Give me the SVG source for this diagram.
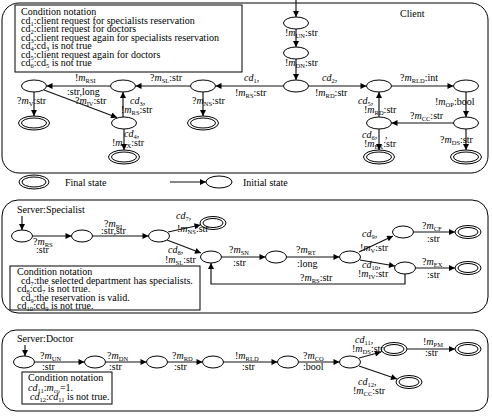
<svg xmlns="http://www.w3.org/2000/svg" width="492" height="416" viewBox="0 0 492 416" font-family="'Liberation Serif', 'Times New Roman', serif">
<style>
.t{font-family:"Liberation Serif","Times New Roman",serif;font-size:10px;fill:#000}
.i{font-style:italic}
.s{font-size:6.5px}
.e{fill:#fff;stroke:#000;stroke-width:1}
.c{fill:none;stroke:#111;stroke-width:1.15;marker-end:url(#ah)}
.p{fill:none;stroke:#000;stroke-width:1}
.b{fill:#fff;stroke:#000;stroke-width:1}
</style>
<defs>
<marker id="ah" viewBox="0 0 10 10" refX="10" refY="5" markerWidth="8" markerHeight="6" markerUnits="userSpaceOnUse" orient="auto"><path d="M0,0 L10,5 L0,10 z" fill="#000"/></marker>
</defs>
<rect x="0" y="0" width="492" height="416" fill="#fff"/>

<!-- Panels -->
<g id="panel-client"><rect class="p" x="2" y="3" width="486" height="170" rx="17"/>
<text class="t" x="400" y="17">Client</text></g>
<g id="panel-specialist"><rect class="p" x="2" y="200" width="486" height="113" rx="16"/>
<text class="t" x="17" y="213">Server:Specialist</text></g>
<g id="panel-doctor"><rect class="p" x="2" y="330" width="486" height="81" rx="14"/>
<text class="t" x="17" y="342">Server:Doctor</text></g>

<!-- Condition boxes -->
<g id="cond-client"><rect class="b" x="15" y="5" width="227" height="67"/>
<text class="t" x="21" y="15">Condition notation</text>
<text class="t" x="21" y="23.5">cd<tspan class="s" dy="2">1</tspan><tspan dy="-2">:client request for specialists reservation</tspan></text>
<text class="t" x="21" y="32">cd<tspan class="s" dy="2">2</tspan><tspan dy="-2">:client request for doctors</tspan></text>
<text class="t" x="21" y="40.5">cd<tspan class="s" dy="2">3</tspan><tspan dy="-2">:client request again for specialists reservation</tspan></text>
<text class="t" x="21" y="49">cd<tspan class="s" dy="2">4</tspan><tspan dy="-2">:cd</tspan><tspan class="s" dy="2">3</tspan><tspan dy="-2"> is not true</tspan></text>
<text class="t" x="21" y="57.5">cd<tspan class="s" dy="2">5</tspan><tspan dy="-2">:client request again for doctors</tspan></text>
<text class="t" x="21" y="66">cd<tspan class="s" dy="2">6</tspan><tspan dy="-2">:cd</tspan><tspan class="s" dy="2">5</tspan><tspan dy="-2"> is not true</tspan></text>
</g>
<g id="cond-specialist"><rect class="b" x="10" y="266" width="190" height="44"/>
<text class="t" x="17" y="275">Condition notation</text>
<text class="t" x="21" y="283.5">cd<tspan class="s" dy="2">7</tspan><tspan dy="-2">:the selected department has specialists.</tspan></text>
<text class="t" x="17" y="292">cd<tspan class="s" dy="2">8</tspan><tspan dy="-2">:cd</tspan><tspan class="s" dy="2">7</tspan><tspan dy="-2"> is not true.</tspan></text>
<text class="t" x="21" y="300.5">cd<tspan class="s" dy="2">9</tspan><tspan dy="-2">:the reservation is valid.</tspan></text>
<text class="t" x="17" y="309">cd<tspan class="s" dy="2">10</tspan><tspan dy="-2">:cd</tspan><tspan class="s" dy="2">9</tspan><tspan dy="-2"> is not true.</tspan></text>
</g>
<g id="cond-doctor"><rect class="b" x="22" y="372" width="90" height="32"/>
<text class="t" x="28" y="381">Condition notation</text>
<text class="t" x="28" y="390.5"><tspan class="i">cd</tspan><tspan class="s" dy="2">11</tspan><tspan dy="-2">:</tspan><tspan class="i">m</tspan><tspan class="s" dy="2">co</tspan><tspan dy="-2">=1.</tspan></text>
<text class="t" x="30" y="400"><tspan class="i">cd</tspan><tspan class="s" dy="2">12</tspan><tspan dy="-2">:</tspan><tspan class="i">cd</tspan><tspan class="s" dy="2">11</tspan><tspan dy="-2"> is not true.</tspan></text>
</g>

<!-- Legend -->
<g id="legend">
<ellipse class="e" cx="34" cy="182" rx="15" ry="7"/><ellipse class="e" cx="34" cy="182" rx="12" ry="5"/>
<text class="t" x="65" y="186">Final state</text>
<line class="c" x1="170" y1="182" x2="206" y2="182"/>
<ellipse class="e" cx="219" cy="182" rx="13" ry="6"/>
<text class="t" x="243" y="186">Initial state</text>
</g>

<!-- Connectors -->
<g id="connectors">
<!-- client -->
<line class="c" x1="296" y1="0" x2="296" y2="17"/>
<line class="c" x1="296" y1="29" x2="296" y2="47"/>
<line class="c" x1="296" y1="59" x2="296" y2="80"/>
<line class="c" x1="283.5" y1="86" x2="215.5" y2="86"/>
<line class="c" x1="190.5" y1="86" x2="135.5" y2="86"/>
<line class="c" x1="110.5" y1="86" x2="46.5" y2="86"/>
<line class="c" x1="44" y1="90" x2="117" y2="117.5"/>
<line class="c" x1="34" y1="92" x2="34" y2="116"/>
<line class="c" x1="123" y1="117" x2="123" y2="92"/>
<line class="c" x1="124" y1="129" x2="124" y2="150"/>
<line class="c" x1="203" y1="92" x2="203" y2="116"/>
<line class="c" x1="308.5" y1="86" x2="366.5" y2="86"/>
<line class="c" x1="391.5" y1="86" x2="453.5" y2="86"/>
<line class="c" x1="466" y1="92" x2="466" y2="117"/>
<line class="c" x1="453.5" y1="123" x2="391.5" y2="123"/>
<line class="c" x1="379" y1="117" x2="379" y2="92"/>
<line class="c" x1="379" y1="129" x2="379" y2="150"/>
<line class="c" x1="466" y1="129" x2="466" y2="150"/>
<!-- specialist -->
<line class="c" x1="22" y1="216" x2="22" y2="230"/>
<line class="c" x1="32.5" y1="236" x2="71.5" y2="236"/>
<line class="c" x1="92.5" y1="236" x2="148.5" y2="236"/>
<line class="c" x1="168" y1="232" x2="200.5" y2="225"/>
<line class="c" x1="167" y1="240" x2="201" y2="253"/>
<line class="c" x1="221.5" y1="257" x2="265.5" y2="257"/>
<line class="c" x1="286.5" y1="257" x2="339.5" y2="257"/>
<line class="c" x1="359" y1="252" x2="393" y2="236"/>
<line class="c" x1="360" y1="260" x2="395" y2="266"/>
<line class="c" x1="413.5" y1="232" x2="455" y2="232"/>
<line class="c" x1="415.5" y1="268" x2="455" y2="268"/>
<path class="c" d="M405,274 V284 H211 V263"/>
<!-- doctor -->
<line class="c" x1="25" y1="345" x2="25" y2="356"/>
<line class="c" x1="34.5" y1="362" x2="84.5" y2="362"/>
<line class="c" x1="105.5" y1="362" x2="146.5" y2="362"/>
<line class="c" x1="167.5" y1="362" x2="202.5" y2="362"/>
<line class="c" x1="223.5" y1="362" x2="277.5" y2="362"/>
<line class="c" x1="298.5" y1="362" x2="339.5" y2="362"/>
<line class="c" x1="359" y1="358" x2="381" y2="352"/>
<line class="c" x1="407" y1="349" x2="455" y2="349"/>
<line class="c" x1="359" y1="366" x2="397" y2="379"/>
</g>

<!-- Client nodes -->
<g id="c-un"><ellipse class="e" cx="296" cy="23" rx="12.5" ry="6"/></g>
<g id="c-dn"><ellipse class="e" cx="296" cy="53" rx="12.5" ry="6"/></g>
<g id="c-hub"><ellipse class="e" cx="296" cy="86" rx="12.5" ry="6"/></g>
<g id="c-l3"><ellipse class="e" cx="203" cy="86" rx="12.5" ry="6"/></g>
<g id="c-l2"><ellipse class="e" cx="123" cy="86" rx="12.5" ry="6"/></g>
<g id="c-l1"><ellipse class="e" cx="34" cy="86" rx="12.5" ry="6"/></g>
<g id="c-l4"><ellipse class="e" cx="124" cy="123" rx="12.5" ry="6"/></g>
<g id="c-fv"><ellipse class="e" cx="34" cy="123" rx="15.5" ry="7"/><ellipse class="e" cx="34" cy="123" rx="12.5" ry="5"/></g>
<g id="c-fns"><ellipse class="e" cx="203" cy="123" rx="15.5" ry="7"/><ellipse class="e" cx="203" cy="123" rx="12.5" ry="5"/></g>
<g id="c-fex1"><ellipse class="e" cx="124" cy="157" rx="15.5" ry="7"/><ellipse class="e" cx="124" cy="157" rx="12.5" ry="5"/></g>
<g id="c-r1"><ellipse class="e" cx="379" cy="86" rx="12.5" ry="6"/></g>
<g id="c-r2"><ellipse class="e" cx="466" cy="86" rx="12.5" ry="6"/></g>
<g id="c-r3"><ellipse class="e" cx="379" cy="123" rx="12.5" ry="6"/></g>
<g id="c-r4"><ellipse class="e" cx="466" cy="123" rx="12.5" ry="6"/></g>
<g id="c-fex2"><ellipse class="e" cx="379" cy="157" rx="15.5" ry="7"/><ellipse class="e" cx="379" cy="157" rx="12.5" ry="5"/></g>
<g id="c-fds"><ellipse class="e" cx="466" cy="157" rx="15.5" ry="7"/><ellipse class="e" cx="466" cy="157" rx="12.5" ry="5"/></g>

<!-- Specialist nodes -->
<g id="s1"><ellipse class="e" cx="22" cy="236" rx="10.5" ry="6"/></g>
<g id="s2"><ellipse class="e" cx="82" cy="236" rx="10.5" ry="6"/></g>
<g id="s3"><ellipse class="e" cx="159" cy="236" rx="10.5" ry="6"/></g>
<g id="s-f1"><ellipse class="e" cx="213" cy="223" rx="13" ry="6.5"/><ellipse class="e" cx="213" cy="223" rx="10" ry="4.5"/></g>
<g id="s4"><ellipse class="e" cx="211" cy="257" rx="10.5" ry="6"/></g>
<g id="s5"><ellipse class="e" cx="276" cy="257" rx="10.5" ry="6"/></g>
<g id="s6"><ellipse class="e" cx="350" cy="257" rx="10.5" ry="6"/></g>
<g id="s7"><ellipse class="e" cx="403" cy="232" rx="10.5" ry="6"/></g>
<g id="s8"><ellipse class="e" cx="405" cy="268" rx="10.5" ry="6"/></g>
<g id="s-f2"><ellipse class="e" cx="468" cy="232" rx="13" ry="6.5"/><ellipse class="e" cx="468" cy="232" rx="10" ry="4.5"/></g>
<g id="s-f3"><ellipse class="e" cx="468" cy="268" rx="13" ry="6.5"/><ellipse class="e" cx="468" cy="268" rx="10" ry="4.5"/></g>

<!-- Doctor nodes -->
<g id="d1"><ellipse class="e" cx="24" cy="362" rx="10.5" ry="6"/></g>
<g id="d2"><ellipse class="e" cx="95" cy="362" rx="10.5" ry="6"/></g>
<g id="d3"><ellipse class="e" cx="157" cy="362" rx="10.5" ry="6"/></g>
<g id="d4"><ellipse class="e" cx="213" cy="362" rx="10.5" ry="6"/></g>
<g id="d5"><ellipse class="e" cx="288" cy="362" rx="10.5" ry="6"/></g>
<g id="d6"><ellipse class="e" cx="350" cy="362" rx="10.5" ry="6"/></g>
<g id="d-f1"><ellipse class="e" cx="394" cy="349" rx="13" ry="6.5"/><ellipse class="e" cx="394" cy="349" rx="10" ry="4.5"/></g>
<g id="d-f2"><ellipse class="e" cx="468" cy="349" rx="13" ry="6.5"/><ellipse class="e" cx="468" cy="349" rx="10" ry="4.5"/></g>
<g id="d-f3"><ellipse class="e" cx="409" cy="382" rx="13" ry="6.5"/><ellipse class="e" cx="409" cy="382" rx="10" ry="4.5"/></g>

<!-- Labels -->
<g id="labels">
<!-- client -->
<text class="t" x="285" y="36">!<tspan class="i">m</tspan><tspan class="s" dy="2">UN</tspan><tspan dy="-2">:str</tspan></text>
<text class="t" x="285" y="66">!<tspan class="i">m</tspan><tspan class="s" dy="2">DN</tspan><tspan dy="-2">:str</tspan></text>
<text class="t" x="322" y="81"><tspan class="i">cd</tspan><tspan class="s" dy="2">2</tspan><tspan dy="-2">,</tspan></text>
<text class="t" x="315" y="96">!<tspan class="i">m</tspan><tspan class="s" dy="2">RD</tspan><tspan dy="-2">:str</tspan></text>
<text class="t" x="400" y="81">?<tspan class="i">m</tspan><tspan class="s" dy="2">RLD</tspan><tspan dy="-2">:int</tspan></text>
<text class="t" x="435" y="105">!<tspan class="i">m</tspan><tspan class="s" dy="2">OP</tspan><tspan dy="-2">:bool</tspan></text>
<text class="t" x="410" y="119">?<tspan class="i">m</tspan><tspan class="s" dy="2">CC</tspan><tspan dy="-2">:str</tspan></text>
<text class="t" x="440" y="143">?<tspan class="i">m</tspan><tspan class="s" dy="2">DS</tspan><tspan dy="-2">:str</tspan></text>
<text class="t" x="358" y="104"><tspan class="i">cd</tspan><tspan class="s" dy="2">5</tspan><tspan dy="-2">,</tspan></text>
<text class="t" x="364" y="113">!<tspan class="i">m</tspan><tspan class="s" dy="2">RD</tspan><tspan dy="-2">:str</tspan></text>
<text class="t" x="362" y="138"><tspan class="i">cd</tspan><tspan class="s" dy="2">6</tspan><tspan dy="-2">,</tspan><tspan x="385">,</tspan></text>
<text class="t" x="364" y="147">!<tspan class="i">m</tspan><tspan class="s" dy="2">EX</tspan><tspan dy="-2">:str</tspan></text>
<text class="t" x="244" y="81"><tspan class="i">cd</tspan><tspan class="s" dy="2">1</tspan><tspan dy="-2">,</tspan></text>
<text class="t" x="235" y="96">!<tspan class="i">m</tspan><tspan class="s" dy="2">RS</tspan><tspan dy="-2">:str</tspan></text>
<text class="t" x="150" y="81">?<tspan class="i">m</tspan><tspan class="s" dy="2">SL</tspan><tspan dy="-2">:str</tspan></text>
<text class="t" x="192" y="104">?<tspan class="i">m</tspan><tspan class="s" dy="2">NS</tspan><tspan dy="-2">:str</tspan></text>
<text class="t" x="75" y="81">!<tspan class="i">m</tspan><tspan class="s" dy="2">RSI</tspan></text>
<text class="t" x="67" y="95">:str,long</text>
<text class="t" x="17" y="104">?<tspan class="i">m</tspan><tspan class="s" dy="2">V</tspan><tspan dy="-2">:str</tspan></text>
<text class="t" x="75" y="104">?<tspan class="i">m</tspan><tspan class="s" dy="2">IV</tspan><tspan dy="-2">:str</tspan></text>
<text class="t" x="130" y="104"><tspan class="i">cd</tspan><tspan class="s" dy="2">3</tspan><tspan dy="-2">,</tspan></text>
<text class="t" x="121" y="113">!<tspan class="i">m</tspan><tspan class="s" dy="2">RS</tspan><tspan dy="-2">:str</tspan></text>
<text class="t" x="124" y="137"><tspan class="i">cd</tspan><tspan class="s" dy="2">4</tspan><tspan dy="-2">,</tspan></text>
<text class="t" x="112" y="146">!<tspan class="i">m</tspan><tspan class="s" dy="2">EX</tspan><tspan dy="-2">:str</tspan></text>
<!-- specialist -->
<text class="t" x="33" y="245">?<tspan class="i">m</tspan><tspan class="s" dy="2">RS</tspan></text>
<text class="t" x="36" y="253">:str</text>
<text class="t" x="104" y="227">?<tspan class="i">m</tspan><tspan class="s" dy="2">RI</tspan></text>
<text class="t" x="101" y="234">:str,str</text>
<text class="t" x="176" y="219"><tspan class="i">cd</tspan><tspan class="s" dy="2">7</tspan><tspan dy="-2">,</tspan></text>
<text class="t" x="177" y="232">!<tspan class="i">m</tspan><tspan class="s" dy="2">NS</tspan><tspan dy="-2">:str</tspan></text>
<text class="t" x="168" y="253"><tspan class="i">cd</tspan><tspan class="s" dy="2">8</tspan><tspan dy="-2">,</tspan></text>
<text class="t" x="165" y="263">!<tspan class="i">m</tspan><tspan class="s" dy="2">SL</tspan><tspan dy="-2">:str</tspan></text>
<text class="t" x="229" y="253">?<tspan class="i">m</tspan><tspan class="s" dy="2">SN</tspan></text>
<text class="t" x="233" y="266">:str</text>
<text class="t" x="296" y="253">?<tspan class="i">m</tspan><tspan class="s" dy="2">RT</tspan></text>
<text class="t" x="297" y="267">:long</text>
<text class="t" x="362" y="237"><tspan class="i">cd</tspan><tspan class="s" dy="2">9</tspan><tspan dy="-2">,</tspan></text>
<text class="t" x="360" y="251">!<tspan class="i">m</tspan><tspan class="s" dy="2">V</tspan><tspan dy="-2">:str</tspan></text>
<text class="t" x="362" y="268"><tspan class="i">cd</tspan><tspan class="s" dy="2">10</tspan><tspan dy="-2">,</tspan></text>
<text class="t" x="358" y="277">!<tspan class="i">m</tspan><tspan class="s" dy="2">IV</tspan><tspan dy="-2">:str</tspan></text>
<text class="t" x="422" y="229">?<tspan class="i">m</tspan><tspan class="s" dy="2">CF</tspan></text>
<text class="t" x="427" y="242">:str</text>
<text class="t" x="422" y="265">?<tspan class="i">m</tspan><tspan class="s" dy="2">EX</tspan></text>
<text class="t" x="427" y="278">:str</text>
<text class="t" x="300" y="281">?<tspan class="i">m</tspan><tspan class="s" dy="2">RS</tspan><tspan dy="-2">:str</tspan></text>
<!-- doctor -->
<text class="t" x="40" y="359">?<tspan class="i">m</tspan><tspan class="s" dy="2">UN</tspan></text>
<text class="t" x="42" y="370">:str</text>
<text class="t" x="107" y="359">?<tspan class="i">m</tspan><tspan class="s" dy="2">DN</tspan></text>
<text class="t" x="109" y="370">:str</text>
<text class="t" x="172" y="359">?<tspan class="i">m</tspan><tspan class="s" dy="2">RD</tspan></text>
<text class="t" x="174" y="370">:str</text>
<text class="t" x="235" y="359">!<tspan class="i">m</tspan><tspan class="s" dy="2">RLD</tspan></text>
<text class="t" x="242" y="370">:str</text>
<text class="t" x="303" y="359">?<tspan class="i">m</tspan><tspan class="s" dy="2">CO</tspan></text>
<text class="t" x="303" y="370">:bool</text>
<text class="t" x="355" y="343"><tspan class="i">cd</tspan><tspan class="s" dy="2">11</tspan><tspan dy="-2">,</tspan></text>
<text class="t" x="352" y="352">!<tspan class="i">m</tspan><tspan class="s" dy="2">DS</tspan><tspan dy="-2">:str</tspan></text>
<text class="t" x="423" y="345">!<tspan class="i">m</tspan><tspan class="s" dy="2">PM</tspan></text>
<text class="t" x="425" y="356">:str</text>
<text class="t" x="358" y="385"><tspan class="i">cd</tspan><tspan class="s" dy="2">12</tspan><tspan dy="-2">,</tspan></text>
<text class="t" x="353" y="394">!<tspan class="i">m</tspan><tspan class="s" dy="2">CC</tspan><tspan dy="-2">:str</tspan></text>
</g>
</svg>
